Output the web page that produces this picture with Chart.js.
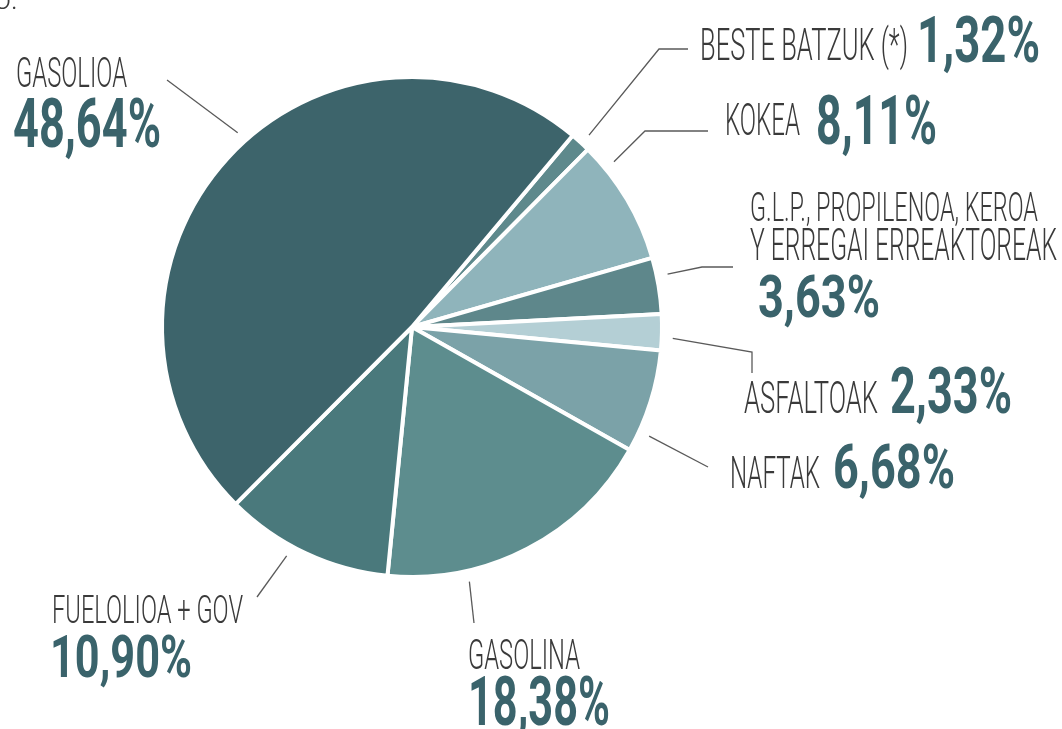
<!DOCTYPE html>
<html>
<head>
<meta charset="utf-8">
<script src="https://cdn.jsdelivr.net/npm/chart.js@4.4.0/dist/chart.umd.min.js"></script>
<style>
    html, body { margin: 0; padding: 0; background: #fff; }
    #wrap { width: 1062px; height: 729px; }
</style>
</head>
<body>
<div id="wrap"><canvas id="petrolioChart" width="1062" height="729"></canvas></div>
<script>
// Datuak
const kategoriak = [
    ["BESTE BATZUK (*)"],
    ["KOKEA"],
    ["G.L.P., PROPILENOA, KEROA", "Y ERREGAI ERREAKTOREAK"],
    ["ASFALTOAK"],
    ["NAFTAK"],
    ["GASOLINA"],
    ["FUELOLIOA + GOV"],
    ["GASOLIOA"],
];
const balioak = [1.32, 8.11, 3.63, 2.33, 6.68, 18.38, 10.9, 48.64];

const koloreak = [
    "#5e898c", // beste batzuk
    "#8fb4bb", // kokea
    "#5e878b", // glp
    "#b4cfd5", // asfaltoak
    "#7ba2a8", // naftak
    "#5d8d8e", // gasolina
    "#4a797c", // fuelolioa
    "#3d646b", // gasolioa
];

// Etiketen kokapena (angelua goitik, erlojuaren noranzkoan)
const etiketak = [
    { ang: 42.7, lerroa: [[659, 49], [688, 49]],
      izena: [{ x: 700, y: 60, w: 208, cap: 31 }], pct: { x: 917, y: 62, w: 123, cap: 46 } },
    { ang: 50.7, lerroa: [[645, 131], [708, 131]],
      izena: [{ x: 725, y: 135, w: 75, cap: 32 }], pct: { x: 816, y: 144, w: 121, cap: 49 } },
    { ang: 78.3, lerroa: [[702, 267], [733, 267]],
      izena: [{ x: 750, y: 221, w: 288, cap: 29 }, { x: 750, y: 260, w: 307, cap: 31 }],
      pct: { x: 758, y: 317, w: 122, cap: 43 } },
    { ang: 92.5, lerroa: [[752, 352], [752, 373]],
      izena: [{ x: 744, y: 413, w: 134, cap: 31 }], pct: { x: 890, y: 413, w: 122, cap: 46 } },
    { ang: 114.7, lerroa: [[708, 467]],
      izena: [{ x: 730, y: 488, w: 90, cap: 31 }], pct: { x: 833, y: 488, w: 122, cap: 44 } },
    { ang: 167.3, lerroa: [[474, 623]],
      izena: [{ x: 468, y: 669, w: 112, cap: 30 }], pct: { x: 468, y: 725, w: 142, cap: 49 } },
    { ang: 208.7, lerroa: [[257, 597]],
      izena: [{ x: 52, y: 623, w: 191, cap: 28 }], pct: { x: 50, y: 677, w: 142, cap: 43 } },
    { ang: 318.1, lerroa: [[167, 80]],
      izena: [{ x: 16, y: 87, w: 111, cap: 30 }], pct: { x: 13, y: 147, w: 148, cap: 49 } },
];

function formatPct(v) {
    return v.toFixed(2).replace(".", ",") + "%";
}

// testua estutuz marraztu, zabalera jakin batera
function testuEstua(ctx, text, pos, weight, color) {
    const size = Math.round(pos.cap / 0.711);
    ctx.font = weight + " " + size + "px Roboto, 'DejaVu Sans', sans-serif";
    const natural = ctx.measureText(text).width;
    const sx = pos.w / natural;
    ctx.save();
    ctx.translate(pos.x, pos.y);
    ctx.scale(sx, 1);
    ctx.fillStyle = color;
    ctx.textBaseline = "alphabetic";
    ctx.textAlign = "left";
    ctx.fillText(text, 0, 0);
    ctx.restore();
}

const etiketaPlugin = {
    id: "etiketaPlugin",
    afterDraw(chart) {
        const ctx = chart.ctx;
        const arc = chart.getDatasetMeta(0).data[0];
        const cx = arc.x, cy = arc.y, r = arc.outerRadius + 11;

        // goiko ertzeko testu zatia
        ctx.save();
        ctx.font = "300 30px Roboto, sans-serif";
        ctx.fillStyle = "#3a3a3a";
        ctx.fillText("ó.", -6, 9);
        ctx.restore();

        etiketak.forEach((et, i) => {
            const a = et.ang * Math.PI / 180;
            ctx.save();
            ctx.strokeStyle = "#5a5a5a";
            ctx.lineWidth = 1.3;
            ctx.beginPath();
            ctx.moveTo(cx + r * Math.sin(a), cy - r * Math.cos(a));
            et.lerroa.forEach((p) => ctx.lineTo(p[0], p[1]));
            ctx.stroke();
            ctx.restore();

            kategoriak[i].forEach((lerro, j) => {
                testuEstua(ctx, lerro, et.izena[j], "300", "#3a3a3a");
            });
            testuEstua(ctx, formatPct(balioak[i]), et.pct, "bold", "#3a636b");
        });
    },
};

new Chart(document.getElementById("petrolioChart"), {
    type: "pie",
    data: {
        labels: kategoriak,
        datasets: [
            {
                data: balioak,
                backgroundColor: koloreak,
                borderColor: "#ffffff",
                borderWidth: 4,
                hoverOffset: 0,
            },
        ],
    },
    options: {
        responsive: false,
        animation: false,
        devicePixelRatio: 1,
        rotation: 40,
        layout: {
            padding: { left: 160, right: 398, top: 75, bottom: 150 },
        },
        plugins: {
            legend: { display: false },
            tooltip: { enabled: false },
        },
    },
    plugins: [etiketaPlugin],
});
</script>
</body>
</html>
